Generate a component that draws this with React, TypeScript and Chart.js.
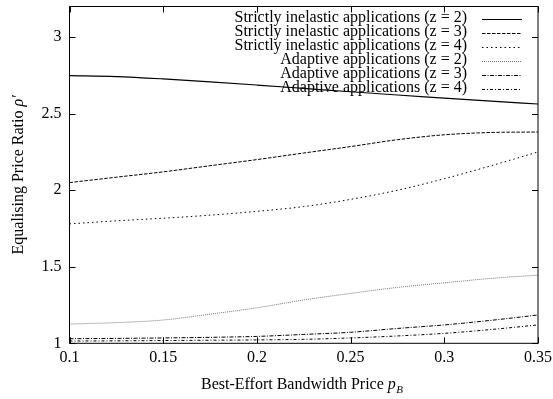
import { useEffect, useRef } from "react";
import { Chart, registerables } from "chart.js";

Chart.register(...registerables);

const FONT = '"Liberation Serif", "Times New Roman", serif';

// ---- data ----
const xValues = [0.1, 0.125, 0.15, 0.175, 0.2, 0.225, 0.25, 0.275, 0.3, 0.325, 0.35];
const strictZ2 = [2.748, 2.742, 2.727, 2.708, 2.687, 2.665, 2.643, 2.622, 2.602, 2.582, 2.563];
const strictZ3 = [2.05, 2.085, 2.12, 2.16, 2.2, 2.243, 2.285, 2.33, 2.362, 2.377, 2.38];
const strictZ4 = [1.78, 1.8, 1.817, 1.837, 1.862, 1.893, 1.94, 2.0, 2.075, 2.16, 2.25];
const adaptZ2 = [1.126, 1.135, 1.152, 1.19, 1.232, 1.283, 1.326, 1.365, 1.395, 1.424, 1.445];
const adaptZ3 = [1.03, 1.032, 1.035, 1.039, 1.045, 1.058, 1.072, 1.097, 1.12, 1.15, 1.185];
const adaptZ4 = [1.015, 1.016, 1.018, 1.02, 1.022, 1.026, 1.035, 1.048, 1.065, 1.09, 1.12];
const seriesLabels = [
  "Strictly inelastic applications (z = 2)",
  "Strictly inelastic applications (z = 3)",
  "Strictly inelastic applications (z = 4)",
  "Adaptive applications (z = 2)",
  "Adaptive applications (z = 3)",
  "Adaptive applications (z = 4)",
];
const xTicks = [0.1, 0.15, 0.2, 0.25, 0.3, 0.35];
const yTicks = [1, 1.5, 2, 2.5, 3];
const xTitle = "Best-Effort Bandwidth Price ";
const xTitleVar = "p";
const xTitleSub = "B";
const yTitle = "Equalising Price Ratio ";
const yTitleVar = "ρ′";

// ---- styles ----
const seriesValues = [strictZ2, strictZ3, strictZ4, adaptZ2, adaptZ3, adaptZ4];
const lineStyles = [
  { color: "#000", width: 1.2, dash: [] as number[] },
  { color: "#000", width: 1, dash: [3.5, 1.5] },
  { color: "#000", width: 1, dash: [1.5, 3] },
  { color: "#777", width: 1, dash: [1, 1] },
  { color: "#000", width: 1, dash: [4, 1.5, 1, 1.5] },
  { color: "#000", width: 1, dash: [3, 2, 1, 2] },
];

const fmt = (v: number) => String(Number(v.toFixed(2)));

const framePlugin = {
  id: "gnuplotFrame",
  afterDatasetsDraw(chart: any) {
    const { ctx, chartArea: a, scales } = chart;
    ctx.save();
    ctx.strokeStyle = "#000";
    ctx.lineWidth = 1;
    ctx.setLineDash([]);
    ctx.strokeRect(a.left, a.top, a.right - a.left, a.bottom - a.top);
    const tl = 6;
    ctx.beginPath();
    for (const v of xTicks) {
      const px = Math.round(scales.x.getPixelForValue(v)) + 0.5;
      ctx.moveTo(px, a.bottom);
      ctx.lineTo(px, a.bottom - tl);
      ctx.moveTo(px, a.top);
      ctx.lineTo(px, a.top + tl);
    }
    for (const v of yTicks) {
      const py = Math.round(scales.y.getPixelForValue(v)) + 0.5;
      ctx.moveTo(a.left, py);
      ctx.lineTo(a.left + tl, py);
      ctx.moveTo(a.right, py);
      ctx.lineTo(a.right - tl, py);
    }
    ctx.stroke();

    // legend
    ctx.font = `16px ${FONT}`;
    ctx.fillStyle = "#000";
    ctx.textAlign = "right";
    ctx.textBaseline = "middle";
    chart.data.datasets.forEach((ds: any, i: number) => {
      const y = a.top + 12 + i * 14;
      ctx.fillText(ds.label, a.right - 71, y - 0.5);
      ctx.beginPath();
      ctx.strokeStyle = ds.borderColor;
      ctx.lineWidth = ds.borderWidth;
      ctx.setLineDash(ds.borderDash);
      ctx.moveTo(a.right - 56, Math.round(y) + 0.5);
      ctx.lineTo(a.right - 16, Math.round(y) + 0.5);
      ctx.stroke();
    });
    ctx.setLineDash([]);

    // x title
    ctx.textAlign = "left";
    ctx.textBaseline = "alphabetic";
    const f1 = `16px ${FONT}`;
    const f2 = `italic 16px ${FONT}`;
    const f3 = `italic 11px ${FONT}`;
    ctx.font = f1;
    const w1 = ctx.measureText(xTitle).width;
    ctx.font = f2;
    const w2 = ctx.measureText(xTitleVar).width;
    ctx.font = f3;
    const w3 = ctx.measureText(xTitleSub).width;
    const total = w1 + w2 + w3;
    let x0 = (a.left + a.right) / 2 - total / 2 - 2;
    const by = 389;
    ctx.font = f1;
    ctx.fillText(xTitle, x0, by);
    ctx.font = f2;
    ctx.fillText(xTitleVar, x0 + w1, by);
    ctx.font = f3;
    ctx.fillText(xTitleSub, x0 + w1 + w2 + 0.5, by + 4);

    // y title
    ctx.save();
    ctx.translate(23, (a.top + a.bottom) / 2);
    ctx.rotate(-Math.PI / 2);
    ctx.font = f1;
    const yw1 = ctx.measureText(yTitle).width;
    ctx.font = f2;
    const yw2 = ctx.measureText(yTitleVar).width;
    const ys = -(yw1 + yw2) / 2;
    ctx.font = f1;
    ctx.fillText(yTitle, ys, 0);
    ctx.font = f2;
    ctx.fillText(yTitleVar, ys + yw1, 0);
    ctx.restore();

    ctx.restore();
  },
};

const zeroPad = (s: any) => {
  s.paddingTop = 0;
  s.paddingBottom = 0;
  s.paddingLeft = 0;
  s.paddingRight = 0;
};

export default function App() {
  const ref = useRef<HTMLCanvasElement | null>(null);
  useEffect(() => {
    document.body.style.margin = "0";
    const canvas = ref.current!;
    const chart = new Chart(canvas, {
      type: "line",
      data: {
        datasets: seriesValues.map((vals, i) => ({
          label: seriesLabels[i],
          data: xValues.map((x, j) => ({ x, y: vals[j] })),
          borderColor: lineStyles[i].color,
          borderWidth: lineStyles[i].width,
          borderDash: lineStyles[i].dash,
          pointRadius: 0,
          cubicInterpolationMode: "monotone" as const,
          fill: false,
        })),
      },
      options: {
        responsive: false,
        animation: false,
        events: [],
        layout: { padding: { top: 6.5, right: 15, left: 0, bottom: 0 } },
        plugins: { legend: { display: false }, tooltip: { enabled: false } },
        scales: {
          x: {
            type: "linear",
            min: 0.1,
            max: 0.35,
            afterFit: (s: any) => { s.height = 55.7; zeroPad(s); },
            afterBuildTicks: (s: any) => { s.ticks = xTicks.map((v) => ({ value: v })); },
            grid: { display: false, drawTicks: false },
            border: { display: false },
            ticks: {
              padding: 5,
              color: "#000",
              font: { family: FONT, size: 16 },
              maxRotation: 0,
              autoSkip: false,
              callback: (v: any) => fmt(Number(v)),
            },
          },
          y: {
            type: "linear",
            min: 1,
            max: 3.2,
            afterFit: (s: any) => { s.width = 69.5; zeroPad(s); },
            afterBuildTicks: (s: any) => { s.ticks = yTicks.map((v) => ({ value: v })); },
            grid: { display: false, drawTicks: false },
            border: { display: false },
            ticks: {
              padding: 8,
              color: "#000",
              font: { family: FONT, size: 16 },
              autoSkip: false,
              callback: (v: any) => fmt(Number(v)),
            },
          },
        },
      },
      plugins: [framePlugin],
    });
    return () => chart.destroy();
  }, []);
  return <canvas ref={ref} width={553} height={399} style={{ display: "block" }} />;
}
